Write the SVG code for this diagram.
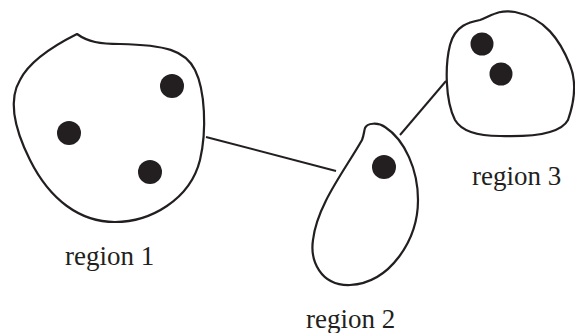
<svg xmlns="http://www.w3.org/2000/svg" width="575" height="333" viewBox="0 0 575 333">
<style>
.blob{fill:none;stroke:#231f20;stroke-width:2.2;stroke-linejoin:round}
.dot{fill:#231f20}
.edge{stroke:#231f20;stroke-width:2;fill:none}
.lbl{font-family:"Liberation Serif","Times New Roman",serif;font-size:27px;fill:#231f20}
</style>
<rect width="575" height="333" fill="#fff"/>
<g id="connectors">
<line class="edge" x1="206" y1="137" x2="336" y2="171"/>
<line class="edge" x1="400" y1="135" x2="446" y2="81"/>
</g>
<g id="region1">
<path class="blob" d="M77,34 C88,42 100,44 120,44 C165,45 185,50 195,70 C205,90 207,130 200,160 C190,200 150,222 115,222 C80,222 50,200 30,160 C15,130 8,100 20,80 C30,60 55,45 77,34 Z"/>
<circle class="dot" cx="172" cy="86" r="12"/>
<circle class="dot" cx="69" cy="133" r="12"/>
<circle class="dot" cx="150" cy="172" r="12"/>
<text class="lbl" x="65" y="265">region 1</text>
</g>
<g id="region2">
<path class="blob" d="M365,128 C367,123 378,122 385,127 C405,140 418,170 418,200 C418,240 390,283 350,285 C320,286 310,260 313,240 C317,205 345,170 362,140 C364,135 364,131 365,128 Z"/>
<circle class="dot" cx="384" cy="167" r="12"/>
<text class="lbl" x="306" y="328">region 2</text>
</g>
<g id="region3">
<path class="blob" d="M480,20 C470,22 455,25 450,45 C445,65 445,100 455,120 C462,132 478,136 500,136 C530,137 560,135 568,120 C575,100 576,80 570,65 C560,40 545,18 515,12 C497,9 490,17 480,20 Z"/>
<circle class="dot" cx="482" cy="44" r="11.5"/>
<circle class="dot" cx="501" cy="74" r="11.5"/>
<text class="lbl" x="472" y="185">region 3</text>
</g>
</svg>
